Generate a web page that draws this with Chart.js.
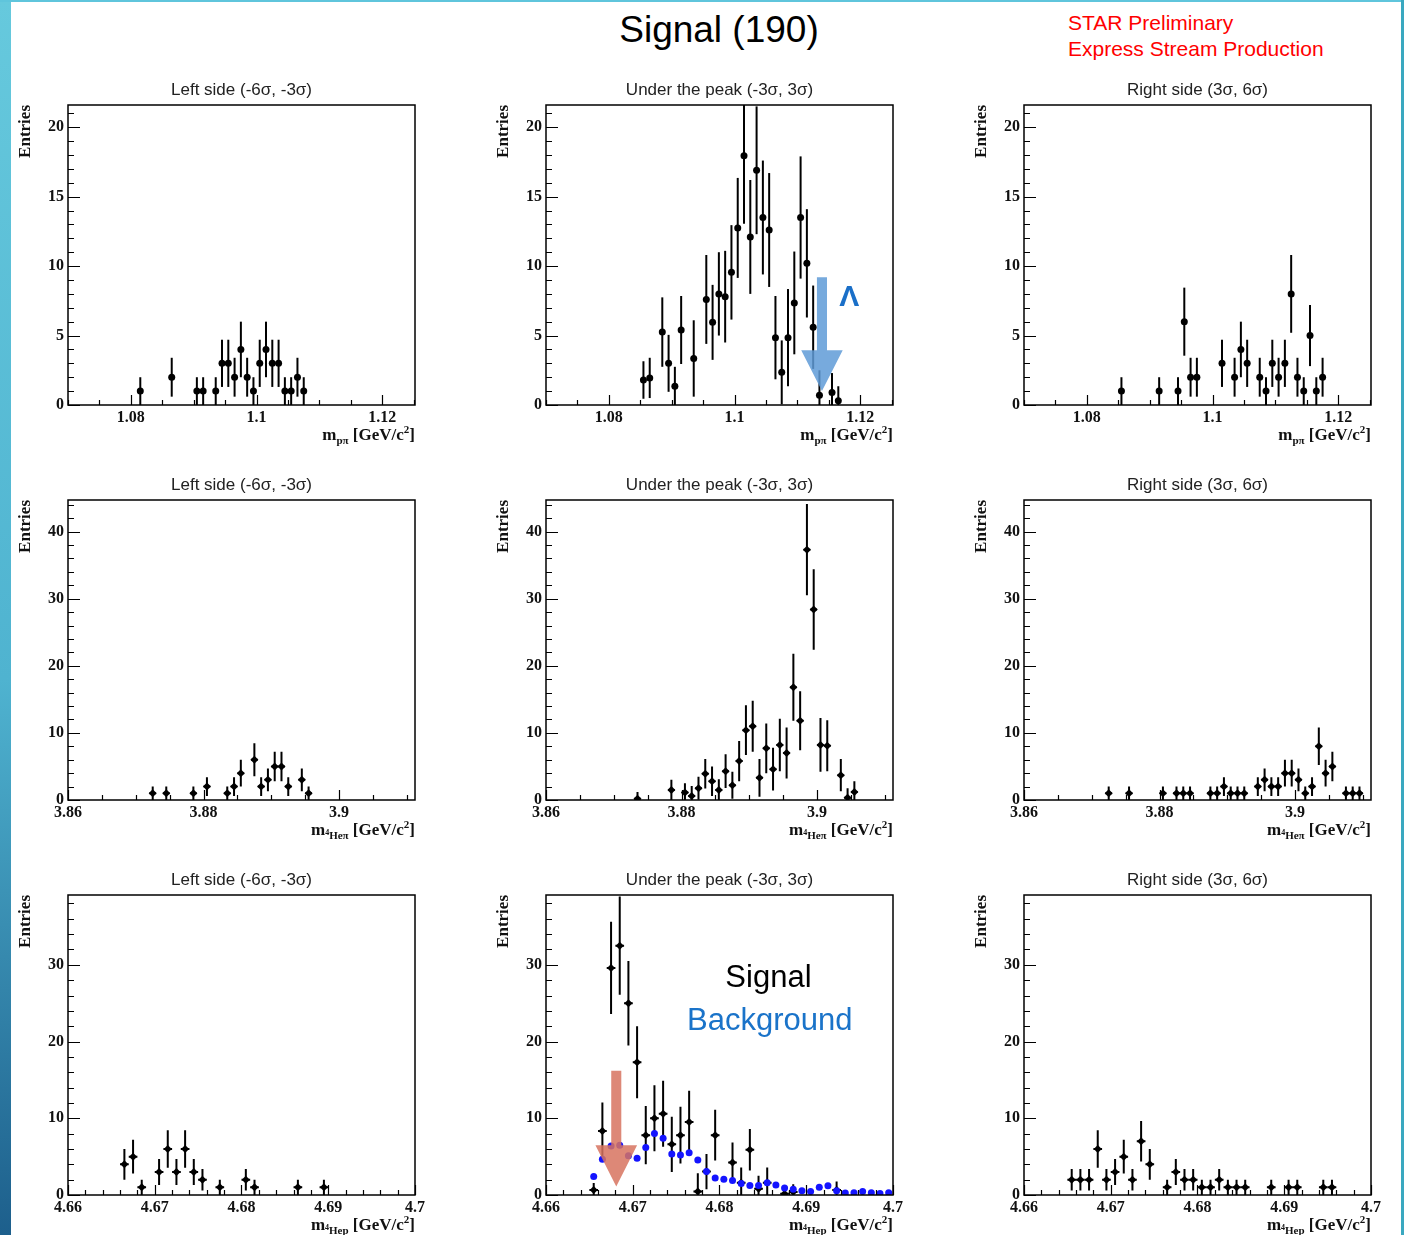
<!DOCTYPE html>
<html>
<head>
<meta charset="utf-8">
<script src="https://cdn.jsdelivr.net/npm/chart.js@4.4.1/dist/chart.umd.min.js"></script>
<style>
  html, body { margin: 0; padding: 0; background: #fff; overflow: hidden; }
  body { width: 1404px; height: 1235px; position: relative; }
  canvas { position: absolute; }
  #strip { position: absolute; left: 0; top: 0; width: 11px; height: 1235px; z-index: 5;
           background: linear-gradient(#66c9dd, #4fb3d0 55%, #1d5f8c); }
  #topline { position: absolute; left: 0; top: 0; width: 1404px; height: 2px; background: #5fc5dc; z-index: 5; }
  #rightline { position: absolute; left: 1401px; top: 0; width: 3px; height: 1235px; background: #3aa8c0; z-index: 5; }
  #mainTitle { position: absolute; left: 519px; width: 400px; top: 9px; text-align: center;
               font: 37px "Liberation Sans", Arial, sans-serif; line-height: 42px; color: #000; }
  #star { position: absolute; left: 1068px; top: 10px; font: 21px "Liberation Sans", Arial, sans-serif;
          line-height: 26px; color: #f00; }
</style>
</head>
<body>
<div id="strip"></div>
<div id="topline"></div>
<div id="rightline"></div>
<div id="mainTitle">Signal (190)</div>
<div id="star">STAR Preliminary<br>Express Stream Production</div>
<script>
// ---- Lambda (p pi) ----
const lamLeftX = [1.0815, 1.0865, 1.0905, 1.0915, 1.0935, 1.0945, 1.0955, 1.0965, 1.0975, 1.0985, 1.0995, 1.1005, 1.1015, 1.1025, 1.1035, 1.1045, 1.1055, 1.1065, 1.1075];
const lamLeftY = [1, 2, 1, 1, 1, 3, 3, 2, 4, 2, 1, 3, 4, 3, 3, 1, 1, 2, 1];
const lamLeftErr = [1, 1.4, 1, 1, 1, 1.7, 1.7, 1.4, 2, 1.4, 1, 1.7, 2, 1.7, 1.7, 1, 1, 1.4, 1];

const lamPeakX = [1.0855, 1.0865, 1.0885, 1.0895, 1.0905, 1.0915, 1.0935, 1.0955, 1.0965, 1.0975, 1.0985, 1.0995, 1.1005, 1.1015, 1.1025, 1.1035, 1.1045, 1.1055, 1.1065, 1.1075, 1.1085, 1.1095, 1.1105, 1.1115, 1.1125, 1.1135, 1.1155, 1.1165];
const lamPeakY = [1.8, 1.95, 5.25, 3.0, 1.35, 5.4, 3.35, 7.6, 5.95, 8.0, 7.8, 9.55, 12.75, 17.95, 12.1, 16.9, 13.5, 12.6, 4.85, 2.35, 4.85, 7.35, 13.5, 10.2, 5.6, 0.7, 0.9, 0.3];
const lamPeakErr = [1.35, 1.45, 2.5, 2.05, 1.4, 2.45, 2.75, 3.2, 2.7, 3.0, 3.3, 3.4, 3.6, 4.9, 4.1, 4.6, 4.1, 4.1, 3.0, 2.3, 3.5, 3.7, 4.4, 3.9, 3.0, 1.8, 1.4, 1.05];

const lamRightX = [1.0855, 1.0915, 1.0945, 1.0955, 1.0965, 1.0975, 1.1015, 1.1035, 1.1045, 1.1055, 1.1075, 1.1085, 1.1095, 1.1105, 1.1115, 1.1125, 1.1135, 1.1145, 1.1155, 1.1165, 1.1175];
const lamRightY = [1, 1, 1, 6, 2, 2, 3, 2, 4, 3, 2, 1, 3, 2, 3, 8, 2, 1, 5, 1, 2];
const lamRightErr = [1, 1, 1, 2.45, 1.4, 1.4, 1.7, 1.4, 2, 1.7, 1.4, 1, 1.7, 1.4, 1.7, 2.8, 1.4, 1, 2.2, 1, 1.4];

// ---- 4He pi ----
const h4LeftX = [3.8725, 3.8745, 3.8785, 3.8805, 3.8835, 3.8845, 3.8855, 3.8875, 3.8885, 3.8895, 3.8905, 3.8915, 3.8925, 3.8945, 3.8955];
const h4LeftY = [1, 1, 1, 2, 1, 2, 4, 6, 2, 3, 5, 5, 2, 3, 1];
const h4LeftErr = [1, 1, 1, 1.4, 1, 1.4, 2, 2.45, 1.4, 1.7, 2.2, 2.2, 1.4, 1.7, 1];

const h4PeakX = [3.8735, 3.8785, 3.8805, 3.8815, 3.8825, 3.8835, 3.8845, 3.8855, 3.8865, 3.8875, 3.8885, 3.8895, 3.8905, 3.8915, 3.8925, 3.8935, 3.8945, 3.8955, 3.8965, 3.8975, 3.8985, 3.8995, 3.9005, 3.9015, 3.9035, 3.9045, 3.9055];
const h4PeakY = [0.2, 1.5, 1.1, 0.6, 1.75, 3.9, 2.8, 1.5, 4.3, 2.2, 5.8, 10.4, 11.0, 3.3, 7.7, 4.6, 8.2, 7.0, 16.8, 11.8, 37.3, 28.4, 8.2, 8.1, 3.7, 0.35, 1.2];
const h4PeakErr = [1.0, 1.5, 1.4, 1.5, 1.7, 2.2, 2.2, 1.6, 2.5, 2.0, 3.0, 3.7, 3.8, 2.8, 3.7, 3.2, 3.9, 3.8, 5.0, 4.4, 6.8, 6.0, 4.0, 3.8, 2.4, 1.4, 1.6];

const h4RightX = [3.8725, 3.8755, 3.8805, 3.8825, 3.8835, 3.8845, 3.8875, 3.8885, 3.8895, 3.8905, 3.8915, 3.8925, 3.8945, 3.8955, 3.8965, 3.8975, 3.8985, 3.8995, 3.9005, 3.9015, 3.9025, 3.9035, 3.9045, 3.9055, 3.9075, 3.9085, 3.9095];
const h4RightY = [1, 1, 1, 1, 1, 1, 1, 1, 2, 1, 1, 1, 2, 3, 2, 2, 4, 4, 3, 1, 2, 8, 4, 5, 1, 1, 1];
const h4RightErr = [1, 1, 1, 1, 1, 1, 1, 1, 1.4, 1, 1, 1, 1.4, 1.7, 1.4, 1.4, 2, 2, 1.7, 1, 1.4, 2.8, 2, 2.2, 1, 1, 1];

// ---- 4He p ----
const hpLeftX = [4.6665, 4.6675, 4.6685, 4.6705, 4.6715, 4.6725, 4.6735, 4.6745, 4.6755, 4.6775, 4.6805, 4.6815, 4.6865, 4.6895];
const hpLeftY = [4, 5, 1, 3, 6, 3, 6, 3, 2, 1, 2, 1, 1, 1];
const hpLeftErr = [2, 2.2, 1, 1.7, 2.45, 1.7, 2.45, 1.7, 1.4, 1, 1.4, 1, 1, 1];

const hpPeakX = [4.6655, 4.6665, 4.6675, 4.6685, 4.6695, 4.6705, 4.6715, 4.6725, 4.6735, 4.6745, 4.6755, 4.6765, 4.6775, 4.6785, 4.6795, 4.6815, 4.6825, 4.6835, 4.6845, 4.6855, 4.6875, 4.6885, 4.6935];
const hpPeakY = [0.65, 8.35, 29.6, 32.5, 25.0, 17.3, 7.8, 10.0, 10.6, 6.6, 7.8, 9.5, 0.45, 3.05, 7.8, 4.25, 1.6, 5.9, 0.8, 1.6, 0.15, 0.4, 0.65];
const hpPeakErr = [0.9, 3.7, 6.0, 6.4, 5.5, 4.7, 3.8, 4.3, 4.3, 3.6, 3.7, 4.1, 2.4, 2.3, 3.3, 2.6, 2.0, 2.7, 1.7, 2.0, 0.6, 1.0, 1.1];

const hpBkgX = [4.6655, 4.6665, 4.6675, 4.6685, 4.6695, 4.6705, 4.6715, 4.6725, 4.6735, 4.6745, 4.6755, 4.6765, 4.6775, 4.6785, 4.6795, 4.6805, 4.6815, 4.6825, 4.6835, 4.6845, 4.6855, 4.6865, 4.6875, 4.6885, 4.6895, 4.6905, 4.6915, 4.6925, 4.6935, 4.6945, 4.6955, 4.6965, 4.6975, 4.6985, 4.6995];
const hpBkgY = [2.4, 4.65, 6.4, 6.5, 5.1, 4.8, 6.2, 8.0, 7.4, 5.35, 5.2, 5.5, 4.55, 3.05, 2.2, 2.05, 1.9, 1.5, 1.25, 1.25, 1.6, 1.3, 0.9, 0.75, 0.55, 0.45, 1.0, 1.2, 0.55, 0.25, 0.3, 0.45, 0.3, 0.2, 0.3];

const hpRightX = [4.6655, 4.6665, 4.6675, 4.6685, 4.6695, 4.6705, 4.6715, 4.6725, 4.6735, 4.6745, 4.6765, 4.6775, 4.6785, 4.6795, 4.6805, 4.6815, 4.6825, 4.6835, 4.6845, 4.6855, 4.6885, 4.6905, 4.6915, 4.6945, 4.6955];
const hpRightY = [2, 2, 2, 6, 2, 3, 5, 2, 7, 4, 1, 3, 2, 2, 1, 1, 2, 1, 1, 1, 1, 1, 1, 1, 1];
const hpRightErr = [1.4, 1.4, 1.4, 2.45, 1.4, 1.7, 2.2, 1.4, 2.65, 2, 1, 1.7, 1.4, 1.4, 1, 1, 1.4, 1, 1, 1, 1, 1, 1, 1, 1];

const titles = ['Left side (-6\u03c3, -3\u03c3)', 'Under the peak (-3\u03c3, 3\u03c3)', 'Right side (3\u03c3, 6\u03c3)'];

// axis setup per row
const rows = [
  { xMin: 1.07, xMax: 1.1252, xStep: 0.02, xMinor: 0.005, yMax: 21.6, yStep: 5, yMinor: 1,
    marker: 'circle', radius: 3.5, xErr: 0, sub: [['p\u03c0', 11, 4]] },
  { xMin: 3.86, xMax: 3.9112, xStep: 0.02, xMinor: 0.005, yMax: 44.7, yStep: 10, yMinor: 2,
    marker: 'rectRot', radius: 4, xErr: 0.0005, sub: [['4', 8, 0], ['He\u03c0', 11, 4]] },
  { xMin: 4.66, xMax: 4.7, xStep: 0.01, xMinor: 0.002, yMax: 39.1, yStep: 10, yMinor: 2,
    marker: 'rectRot', radius: 4, xErr: 0.0005, sub: [['4', 8, 0], ['Hep', 11, 4]] }
];

const panels = [
  [[lamLeftX, lamLeftY, lamLeftErr], [lamPeakX, lamPeakY, lamPeakErr], [lamRightX, lamRightY, lamRightErr]],
  [[h4LeftX, h4LeftY, h4LeftErr], [h4PeakX, h4PeakY, h4PeakErr], [h4RightX, h4RightY, h4RightErr]],
  [[hpLeftX, hpLeftY, hpLeftErr], [hpPeakX, hpPeakY, hpPeakErr], [hpRightX, hpRightY, hpRightErr]]
];

const plotLeft = [68, 546, 1024];
const plotTop = [105, 500, 895];
const plotW = 347, plotH = 300;
const padL = 62, padT = 32, padR = 20, padB = 48;

const SERIF = '"Liberation Serif", "Times New Roman", serif';
const SANS = '"Liberation Sans", Arial, sans-serif';

const rootDeco = {
  id: 'rootDeco',
  beforeDatasetsDraw(chart) {
    const { ctx, chartArea: a, scales: { x, y } } = chart;
    ctx.save();
    ctx.beginPath();
    ctx.rect(a.left, a.top, a.right - a.left, a.bottom - a.top);
    ctx.clip();
    ctx.strokeStyle = '#000';
    ctx.lineWidth = 2;
    chart.data.datasets.forEach(ds => {
      if (!ds.errs) return;
      ds.data.forEach((p, i) => {
        const px = x.getPixelForValue(p.x);
        ctx.beginPath();
        ctx.moveTo(px, y.getPixelForValue(p.y - ds.errs[i]));
        ctx.lineTo(px, y.getPixelForValue(p.y + ds.errs[i]));
        if (ds.xErr) {
          const py = y.getPixelForValue(p.y);
          ctx.moveTo(x.getPixelForValue(p.x - ds.xErr), py);
          ctx.lineTo(x.getPixelForValue(p.x + ds.xErr), py);
        }
        ctx.stroke();
      });
    });
    ctx.restore();
  },
  afterDatasetsDraw(chart, args, opts) {
    const { ctx, chartArea: a, scales: { x, y } } = chart;
    const ar = opts.arrow;
    if (ar) {
      const cx = x.getPixelForValue(ar.x);
      const sh = x.getPixelForValue(ar.x + ar.shaftHalf) - cx;
      const hh = x.getPixelForValue(ar.x + ar.headHalf) - cx;
      const yTop = y.getPixelForValue(ar.yTop);
      const yHead = y.getPixelForValue(ar.yHead);
      const yTip = y.getPixelForValue(ar.yTip);
      ctx.save();
      ctx.fillStyle = ar.color;
      ctx.beginPath();
      ctx.moveTo(cx - sh, yTop);
      ctx.lineTo(cx + sh, yTop);
      ctx.lineTo(cx + sh, yHead);
      ctx.lineTo(cx + hh, yHead);
      ctx.lineTo(cx, yTip);
      ctx.lineTo(cx - hh, yHead);
      ctx.lineTo(cx - sh, yHead);
      ctx.closePath();
      ctx.fill();
      ctx.restore();
    }
    (opts.labels || []).forEach(l => {
      ctx.save();
      ctx.font = l.font;
      ctx.fillStyle = l.color;
      ctx.textAlign = 'center';
      ctx.textBaseline = 'middle';
      ctx.fillText(l.text, a.left + l.fx * (a.right - a.left), a.top + l.fy * (a.bottom - a.top));
      ctx.restore();
    });
  },
  afterDraw(chart, args, opts) {
    const { ctx, chartArea: a, scales: { x, y } } = chart;
    ctx.save();
    // frame
    ctx.strokeStyle = '#000';
    ctx.lineWidth = 1.5;
    ctx.strokeRect(a.left, a.top, a.right - a.left, a.bottom - a.top);
    // y ticks (inside)
    ctx.lineWidth = 1.2;
    ctx.beginPath();
    const nMaj = Math.round(opts.yStep / opts.yMinor);
    for (let k = 0; k * opts.yMinor <= y.max; k++) {
      const py = Math.round(y.getPixelForValue(k * opts.yMinor)) + 0.5;
      const len = k % nMaj === 0 ? 12 : 6;
      ctx.moveTo(a.left, py);
      ctx.lineTo(a.left + len, py);
    }
    // x ticks (inside)
    const k0 = Math.ceil(x.min / opts.xMinor - 1e-6);
    for (let k = k0; k * opts.xMinor <= x.max + 1e-9; k++) {
      const v = k * opts.xMinor;
      const r = v / opts.xStep;
      const major = Math.abs(r - Math.round(r)) < 1e-6;
      const px = Math.round(x.getPixelForValue(v)) + 0.5;
      ctx.moveTo(px, a.bottom);
      ctx.lineTo(px, a.bottom - (major ? 10 : 5));
    }
    ctx.stroke();
    // panel title
    ctx.fillStyle = '#222';
    ctx.font = '17px ' + SANS;
    ctx.textAlign = 'center';
    ctx.textBaseline = 'middle';
    ctx.fillText(opts.title, (a.left + a.right) / 2, a.top - 15);
    // y title
    ctx.save();
    ctx.translate(a.left - 42, a.top);
    ctx.rotate(-Math.PI / 2);
    ctx.fillStyle = '#111';
    ctx.font = 'bold 17px ' + SERIF;
    ctx.textAlign = 'right';
    ctx.textBaseline = 'middle';
    ctx.fillText('Entries', 0, 0);
    ctx.restore();
    // x title with sub/superscripts
    const parts = [['m', 17, 0]].concat(opts.sub, [[' [GeV/c', 17, 0], ['2', 11, -7], [']', 17, 0]]);
    let w = 0;
    parts.forEach(p => { ctx.font = 'bold ' + p[1] + 'px ' + SERIF; w += ctx.measureText(p[0]).width; });
    let cx = a.right - w;
    const base = a.bottom + 35;
    ctx.fillStyle = '#111';
    ctx.textAlign = 'left';
    ctx.textBaseline = 'alphabetic';
    parts.forEach(p => {
      ctx.font = 'bold ' + p[1] + 'px ' + SERIF;
      ctx.fillText(p[0], cx, base + p[2]);
      cx += ctx.measureText(p[0]).width;
    });
    ctx.restore();
  }
};

function fmt(v) { return String(parseFloat(v.toFixed(4))); }

for (let r = 0; r < 3; r++) {
  for (let c = 0; c < 3; c++) {
    const ax = rows[r];
    const [xs, ys, es] = panels[r][c];
    const cv = document.createElement('canvas');
    const W = plotW + padL + padR, H = plotH + padT + padB;
    cv.width = W; cv.height = H;
    cv.style.left = (plotLeft[c] - padL) + 'px';
    cv.style.top = (plotTop[r] - padT) + 'px';
    cv.style.width = W + 'px'; cv.style.height = H + 'px';
    document.body.appendChild(cv);

    const datasets = [];
    if (r === 2 && c === 1) {
      datasets.push({
        data: hpBkgX.map((v, i) => ({ x: v, y: hpBkgY[i] })),
        pointStyle: 'circle', pointRadius: 3.5, backgroundColor: '#1414ff', borderWidth: 0
      });
    }
    datasets.push({
      data: xs.map((v, i) => ({ x: v, y: ys[i] })),
      errs: es, xErr: ax.xErr,
      pointStyle: ax.marker, pointRadius: ax.radius, backgroundColor: '#000', borderWidth: 0
    });

    const deco = { title: titles[c], sub: ax.sub, xStep: ax.xStep, xMinor: ax.xMinor, yStep: ax.yStep, yMinor: ax.yMinor };
    if (r === 0 && c === 1) {
      deco.arrow = { x: 1.1139, shaftHalf: 0.0008, headHalf: 0.0033, yTop: 9.2, yHead: 3.95, yTip: 1.0, color: 'rgba(95,155,215,0.85)' };
      deco.labels = [{ text: '\u039b', fx: 0.874, fy: 0.643, color: '#1a6fc8', font: 'bold 30px ' + SANS }];
    }
    if (r === 2 && c === 1) {
      deco.arrow = { x: 4.6681, shaftHalf: 0.00058, headHalf: 0.0024, yTop: 16.2, yHead: 6.5, yTip: 1.1, color: 'rgba(215,115,95,0.85)' };
      deco.labels = [
        { text: 'Signal', fx: 0.641, fy: 0.277, color: '#000', font: '31px ' + SANS },
        { text: 'Background', fx: 0.645, fy: 0.423, color: '#1a73c9', font: '31px ' + SANS }
      ];
    }

    const tickFont = { family: SERIF, size: 16, weight: 'bold' };
    new Chart(cv, {
      type: 'scatter',
      data: { datasets },
      options: {
        responsive: false,
        animation: false,
        devicePixelRatio: 1,
        layout: { padding: { top: padT, right: padR, left: 0, bottom: 0 } },
        plugins: { legend: { display: false }, tooltip: { enabled: false }, rootDeco: deco },
        scales: {
          x: {
            type: 'linear', position: 'bottom', min: ax.xMin, max: ax.xMax,
            grid: { display: false, drawTicks: false }, border: { display: false },
            ticks: { stepSize: ax.xStep, includeBounds: false, autoSkip: false, maxRotation: 0,
                     padding: 3, color: '#111', font: tickFont, callback: v => fmt(v) },
            afterFit(s) { s.height = padB; s.paddingLeft = 0; s.paddingRight = 0; }
          },
          y: {
            type: 'linear', min: 0, max: ax.yMax,
            grid: { display: false, drawTicks: false }, border: { display: false },
            ticks: { stepSize: ax.yStep, includeBounds: false, padding: 4, color: '#111', font: tickFont },
            afterFit(s) { s.width = padL; s.paddingTop = 0; s.paddingBottom = 0; }
          }
        }
      },
      plugins: [rootDeco]
    });
  }
}
</script>
</body>
</html>
